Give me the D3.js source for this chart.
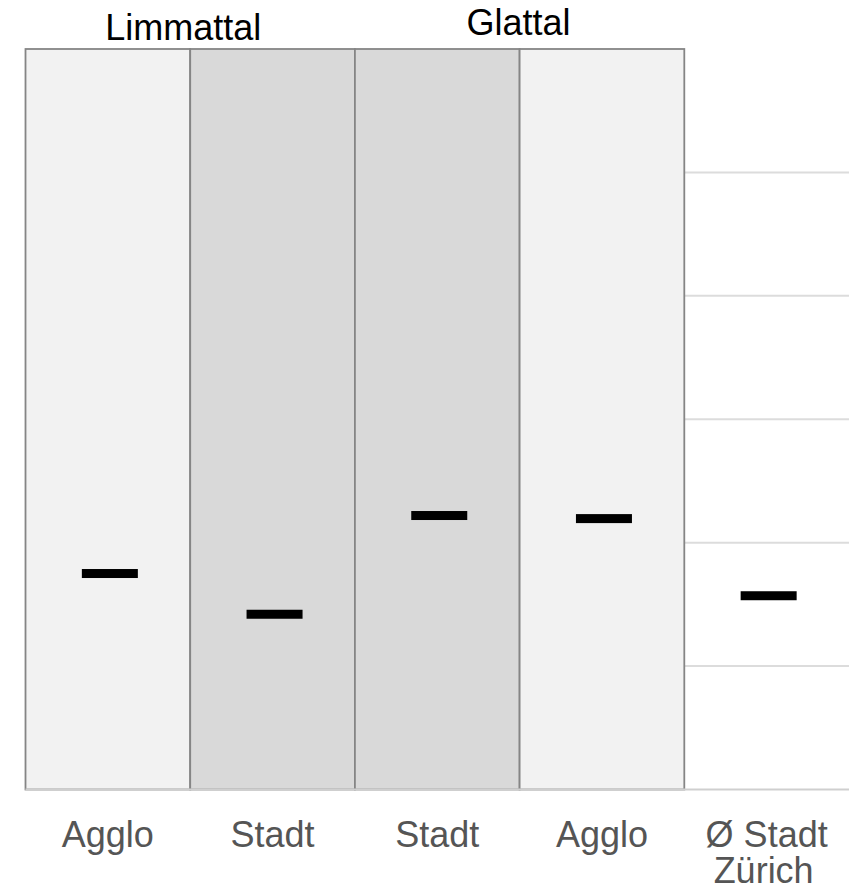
<!DOCTYPE html>
<html>
<head>
<meta charset="utf-8">
<script src="https://cdn.jsdelivr.net/npm/d3@7"></script>
<style>
  html, body { margin: 0; padding: 0; background: #fff; }
  svg { display: block; }
  text { font-family: "Liberation Sans", Arial, Helvetica, sans-serif; }
</style>
</head>
<body>
<svg id="chart" width="859" height="887"></svg>
<script>
// ---- data ----
const categories = ["Agglo1", "Stadt1", "Stadt2", "Agglo2", "Zurich"];
const categoryLabels = [["Agglo"], ["Stadt"], ["Stadt"], ["Agglo"], ["Ø Stadt", "Zürich"]];
const values = [17.5, 14.2, 22.2, 21.95, 15.7];
const panelShade = ["light", "dark", "dark", "light", null];
const groupLabels = ["Limmattal", "Glattal"];
const gridTicks = [0, 10, 20, 30, 40, 50];
const yMax = 60;

// ---- layout ----
(function () {
const svg = d3.select("#chart");
const mLeft = 25.5, mRight = 849, mTop = 49, mBottom = 789.5;

const x = d3.scaleBand().domain(categories).range([mLeft, mRight]).padding(0);
const y = d3.scaleLinear().domain([0, yMax]).range([mBottom, mTop]);

const fills = { light: "#f2f2f2", dark: "#d9d9d9" };

// gridlines (behind panels)
svg.append("g").selectAll("line")
  .data(gridTicks.filter(d => d > 0))
  .join("line")
  .attr("x1", mLeft).attr("x2", mRight)
  .attr("y1", d => y(d)).attr("y2", d => y(d))
  .attr("stroke", "#dcdcdc").attr("stroke-width", 2);

// panels
const panelData = categories.map((c, i) => ({ c, shade: panelShade[i] })).filter(d => d.shade);
svg.append("g").selectAll("rect")
  .data(panelData)
  .join("rect")
  .attr("x", d => x(d.c))
  .attr("y", y(yMax))
  .attr("width", x.bandwidth())
  .attr("height", y(0) - y(yMax))
  .attr("fill", d => fills[d.shade])
  .attr("stroke", "#858585")
  .attr("stroke-width", 1.8);

// baseline
svg.append("line")
  .attr("x1", mLeft).attr("x2", mRight)
  .attr("y1", y(0)).attr("y2", y(0))
  .attr("stroke", "#cfcfcf").attr("stroke-width", 2);

// markers
const mW = 56, mH = 9;
svg.append("g").selectAll("rect")
  .data(categories.map((c, i) => ({ c, v: values[i] })))
  .join("rect")
  .attr("x", d => x(d.c) + x.bandwidth() / 2 - mW / 2 + 2)
  .attr("y", d => y(d.v) - mH / 2)
  .attr("width", mW)
  .attr("height", mH)
  .attr("fill", "#000");

// group labels (top)
const groupPos = [
  { x: x(categories[1]) - 7, y: 40 },
  { x: x(categories[3]) - 1, y: 35 }
];
svg.append("g").selectAll("text")
  .data(groupLabels)
  .join("text")
  .attr("x", (d, i) => groupPos[i].x)
  .attr("y", (d, i) => groupPos[i].y)
  .attr("text-anchor", "middle")
  .attr("font-size", 36)
  .attr("fill", "#000")
  .text(d => d);

// category labels (bottom)
const lab = svg.append("g").selectAll("text")
  .data(categories.map((c, i) => ({ c, lines: categoryLabels[i] })))
  .join("text")
  .attr("x", d => x(d.c) + x.bandwidth() / 2)
  .attr("y", 846.5)
  .attr("text-anchor", "middle")
  .attr("font-size", 36)
  .attr("fill", "#555");
lab.selectAll("tspan")
  .data(d => d.lines.map((l, j) => ({ l, j, cx: x(d.c) + x.bandwidth() / 2 })))
  .join("tspan")
  .attr("x", d => d.cx - (d.j > 0 ? 3 : 0))
  .attr("dy", d => d.j === 0 ? 0 : 36)
  .text(d => d.l);
})();
</script>
</body>
</html>
